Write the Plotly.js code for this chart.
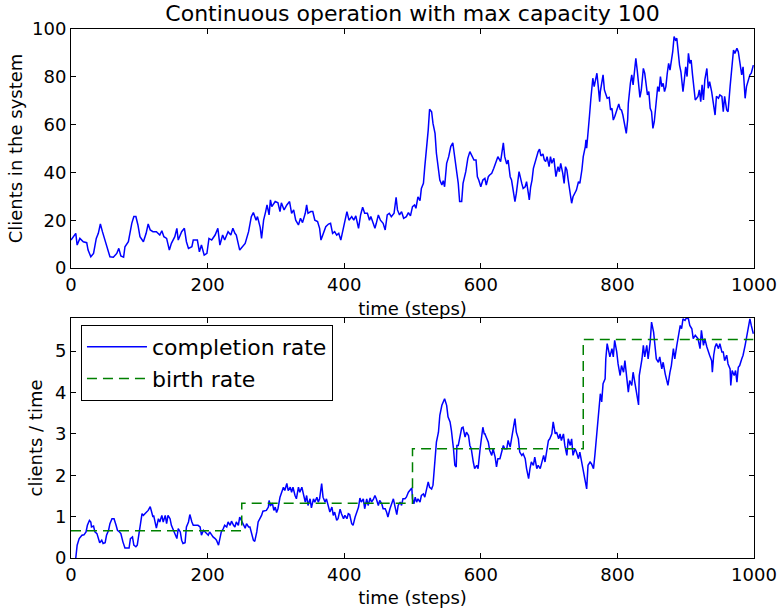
<!DOCTYPE html>
<html>
<head>
<meta charset="utf-8">
<script src="https://cdn.plot.ly/plotly-3.0.1.min.js"></script>
<style>html,body{margin:0;padding:0;background:#fff;}#chart{width:780px;height:612px;}</style>
</head>
<body>
<div id="chart"></div>
<script>
// Clients in the system: [time step, clients]
var clientsPts = [
[0,11.7],[7,14.5],[9,9.6],[13,12.4],[18,11],[23,10.6],[25,7.5],[29,4.7],[33,6.1],[37,12.4],
[40,14.5],[43,18.4],[46,15.2],[50,11.7],[53,8.9],[57,4.7],[62,4.5],[67,6.1],[70,8.2],[73,5],
[77,4.5],[79,8.9],[84,11],[86,14.5],[89,18.7],[92,21.5],[95,21.5],[98,18],[101,13.1],[106,11],
[110,14.5],[113,18.4],[116,15.9],[120,15.2],[125,15.2],[130,13.8],[133,15.6],[136,13.1],[140,12.4],[144,7.5],
[147,10.3],[152,13.1],[155,16.6],[157,11.7],[162,15.2],[166,16.6],[169,11],[172,8.2],[177,8.9],[179,11.7],
[185,11.7],[188,6.8],[191,9.6],[195,5.4],[199,6.1],[202,12.4],[206,11.7],[211,13.8],[215,16.6],[218,9.6],
[222,13.8],[225,11.7],[230,15.2],[234,13.8],[237,16.6],[240,14.5],[242,13.8],[247,7.5],[251,8.9],[255,10.3],
[260,15.2],[264,21.5],[267,23.2],[271,20],[273,21.5],[277,17],[279,12.4],[282,20],[285,23.6],[287,26.4],
[290,22.2],[292,28.5],[294,25.7],[299,27.8],[303,27.3],[306,23.6],[308,27.3],[312,24.3],[316,26.4],[320,27.8],
[323,22.9],[326,24.3],[329,20],[333,18],[336,20.8],[339,19],[343,22.9],[345,26.4],[347,22.9],[351,23.6],
[354,23.6],[357,20],[361,19.4],[364,16.6],[366,11.7],[369,14.5],[373,17.3],[377,18.4],[380,18.7],[383,14.5],
[386,15.2],[389,13.8],[392,14.5],[395,11.7],[398,15.9],[401,18.7],[404,23.6],[407,20],[411,21.5],[414,20],
[417,21.8],[421,16.6],[424,22.2],[427,25.4],[430,22.9],[434,22.9],[437,20],[439,21.5],[442,18.7],[445,16.6],
[447,18.7],[450,22.2],[453,20],[457,18.7],[460,15.9],[463,22.2],[466,22.9],[469,21.5],[473,22.9],[476,29.6],
[478,24.3],[481,22.2],[484,23.6],[487,20.8],[491,21.5],[494,23.2],[497,21.8],[500,25.7],[503,26.4],[505,25],
[508,29.8],[511,28.2],[513,33.3],[516,35.4],[518,42.4],[521,50.8],[523,57.7],[525,66.4],[528,65.4],[530,60.5],
[533,56.3],[535,48],[538,42.4],[540,36.8],[543,34.7],[545,36.5],[547,34],[550,43.8],[553,46.6],[556,50.8],
[559,52.4],[561,48.7],[563,45.2],[565,39.6],[567,35.4],[569,27.8],[572,27.8],[574,35.4],[578,40.3],[581,45.9],
[584,48.7],[587,46.9],[590,45.2],[593,45.2],[595,38.2],[597,36.8],[600,34],[603,36.8],[606,37.5],[608,34.7],
[611,38.2],[613,38.9],[616,39.6],[619,41.7],[622,43.8],[625,46.6],[629,44.5],[631,48],[633,52.4],[635,46.6],
[638,43.5],[640,45.2],[643,38.2],[645,36.8],[647,32.6],[650,27.8],[652,31.2],[656,40.3],[660,35.4],[662,33.3],
[665,34],[667,36.1],[670,30.5],[671,28.5],[673,34],[675,36.8],[677,41.7],[679,43.8],[682,46.6],[684,48.7],
[686,49.7],[688,46.9],[691,47.7],[693,45.2],[695,44.5],[697,46.6],[700,42.4],[702,46.6],[704,43.8],[707,45.9],
[710,38.2],[713,42.4],[715,40.3],[717,43.8],[720,39.6],[722,35.4],[724,42.4],[726,41],[728,36.8],[731,31.9],
[733,27.1],[735,29.8],[738,31.2],[740,32.6],[743,36.1],[745,35.4],[748,41],[750,46.6],[753,50.8],[754,53.6],
[755,50.1],[757,58.4],[759,63.3],[761,70.3],[762,74.5],[764,79.4],[766,75.9],[768,78.7],[770,81.5],[772,75.9],
[774,69.6],[775,73.8],[777,78],[779,80.8],[781,74.5],[783,73.1],[785,71],[788,71.4],[790,66.1],[792,66.8],
[794,61.9],[796,63.3],[798,65],[800,66.8],[802,68.6],[804,66.4],[806,66.1],[808,64],[810,61.2],[813,56.3],
[815,61.9],[816,68.9],[819,77.3],[821,80.8],[823,76.6],[825,82.8],[827,87.7],[829,82.8],[831,75.9],[833,71.4],
[835,74.5],[838,83.5],[840,81.5],[842,75.9],[844,72.4],[846,73.8],[848,66.8],[850,65.4],[852,58.4],[854,61.2],
[855,64],[857,70.3],[859,75.9],[861,73.8],[863,80.1],[865,75.9],[867,77.3],[869,73.8],[871,75.9],[873,81.5],
[875,85.6],[877,82.8],[879,86.3],[881,90.5],[883,96.8],[885,95.4],[887,96.1],[889,89.8],[891,84.9],[893,82.1],
[895,75.2],[896,73.8],[898,78.7],[900,84.2],[902,80.1],[904,89.8],[906,85.6],[908,87],[910,80.8],[912,75.9],
[914,70.3],[916,71],[918,71.8],[920,74.5],[922,69.6],[924,76.6],[926,70.3],[928,78.7],[931,83.5],[933,75.2],
[935,78],[938,73.8],[940,69.6],[943,64],[945,71.8],[948,71],[950,72.4],[953,71.8],[955,65.4],[957,71.8],
[960,66.1],[962,65.4],[965,75.9],[967,81.5],[970,91.2],[972,89.8],[975,91.9],[977,90.5],[979,85.6],[982,80.8],
[984,84.2],[987,71],[989,75.9],[992,79.4],[994,80.8],[996,81.5],[999,84.9]
];

// Completion rate: [time step, clients / time]
var completionPts = [
[7,0],[9,0.31],[12,0.47],[16,0.55],[19,0.56],[22,0.63],[24,0.79],[27,0.91],[29,0.87],[30,0.75],
[33,0.77],[35,0.63],[38,0.59],[40,0.47],[42,0.37],[45,0.43],[47,0.35],[50,0.37],[52,0.55],[55,0.67],
[57,0.83],[60,0.95],[63,0.95],[66,0.79],[68,0.67],[71,0.63],[73,0.59],[76,0.39],[79,0.24],[81,0.24],
[85,0.24],[87,0.47],[90,0.51],[92,0.31],[95,0.27],[97,0.31],[100,0.63],[102,0.87],[104,1.07],[106,1.03],
[108,1.07],[111,1.11],[113,1.15],[116,1.24],[118,1.13],[120,0.99],[121,1.03],[123,0.83],[125,0.72],[128,0.95],
[130,0.87],[133,1.03],[135,0.87],[138,1.03],[140,0.83],[142,1.03],[145,0.95],[147,0.79],[150,0.67],[152,0.63],
[155,0.47],[157,0.71],[160,0.63],[162,0.43],[164,0.35],[167,0.37],[169,0.75],[172,0.87],[174,1.05],[177,0.87],
[179,0.79],[183,0.79],[186,0.79],[189,0.75],[191,0.55],[194,0.67],[196,0.63],[199,0.59],[201,0.55],[203,0.63],
[206,0.55],[208,0.51],[211,0.47],[213,0.43],[216,0.31],[218,0.47],[220,0.63],[223,0.71],[225,0.79],[228,0.75],
[230,0.87],[233,0.79],[235,0.89],[238,0.79],[240,0.75],[242,0.87],[245,0.79],[247,0.99],[250,0.89],[252,0.79],
[255,0.72],[257,0.83],[260,0.75],[262,0.75],[264,0.63],[267,0.43],[269,0.40],[272,0.63],[274,0.87],[277,0.95],
[279,1.03],[281,1.13],[284,1.15],[286,1.15],[289,1.23],[290,1.39],[292,1.27],[295,1.31],[297,1.15],[299,1.23],
[301,1.10],[303,1.19],[306,1.47],[308,1.59],[311,1.71],[313,1.63],[316,1.80],[318,1.63],[321,1.71],[323,1.59],
[325,1.71],[328,1.51],[330,1.43],[333,1.71],[335,1.59],[338,1.71],[340,1.59],[343,1.35],[345,1.51],[347,1.27],
[350,1.43],[352,1.21],[355,1.43],[357,1.35],[360,1.47],[362,1.35],[364,1.43],[367,1.80],[369,1.47],[372,1.35],
[374,1.43],[377,1.19],[379,1.11],[382,1.23],[384,1.03],[386,1.11],[389,0.91],[391,0.95],[394,1.18],[396,1.07],
[399,0.95],[401,1.03],[404,0.95],[406,1.07],[408,1.05],[411,0.83],[413,0.79],[416,0.99],[418,1.11],[421,1.23],
[423,1.45],[425,1.35],[428,1.43],[430,1.19],[433,1.43],[435,1.27],[438,1.45],[440,1.35],[443,1.43],[445,1.51],
[447,1.43],[450,1.27],[452,1.39],[455,1.31],[457,1.19],[460,1.19],[462,1.11],[464,0.99],[467,1.19],[469,1.27],
[472,1.43],[474,1.27],[477,1.05],[479,1.27],[482,1.35],[484,1.27],[486,1.43],[489,1.43],[491,1.47],[494,1.59],
[496,1.63],[499,1.69],[500,1.43],[502,1.31],[504,1.47],[506,1.35],[508,1.43],[511,1.35],[513,1.51],[516,1.55],
[518,1.47],[521,1.71],[523,1.84],[525,1.71],[528,1.67],[530,1.76],[533,2.32],[535,2.80],[538,3.04],[540,3.45],
[543,3.69],[545,3.77],[547,3.85],[550,3.69],[552,3.41],[555,3.29],[557,3.08],[560,2.64],[562,2.24],[564,2.20],
[565,2.72],[567,2.72],[569,2.88],[572,3.14],[574,3.16],[577,2.92],[579,3.04],[582,2.96],[584,2.72],[586,2.64],
[589,2.32],[591,2.16],[594,2.24],[596,2.16],[599,2.64],[601,2.88],[603,3.16],[605,3.00],[606,3.00],[608,2.92],
[611,2.80],[613,2.60],[616,2.48],[618,2.64],[621,2.44],[623,2.20],[625,2.40],[628,2.40],[630,2.52],[633,2.72],
[635,2.64],[638,2.64],[640,2.84],[643,2.68],[645,2.88],[647,3.12],[650,3.37],[652,3.04],[655,2.88],[657,2.56],
[660,2.48],[662,2.52],[665,2.40],[667,2.16],[670,1.92],[672,2.16],[674,2.32],[677,2.24],[679,2.44],[682,2.16],
[684,2.24],[687,2.16],[689,2.32],[692,2.48],[694,2.32],[696,2.56],[699,2.84],[701,2.88],[704,3.00],[706,3.29],
[709,3.00],[711,3.04],[714,2.88],[716,3.00],[718,2.84],[721,3.00],[723,2.72],[726,2.48],[728,2.88],[731,2.72],
[733,2.88],[735,2.48],[738,2.64],[740,2.56],[743,2.40],[745,2.56],[748,2.32],[750,2.08],[753,1.92],[755,1.67],
[757,2.24],[760,2.32],[762,2.28],[765,2.16],[767,2.48],[770,3.12],[772,3.53],[775,3.97],[777,3.77],[779,4.21],
[782,4.33],[783,4.81],[785,5.18],[787,4.98],[789,4.86],[792,5.06],[794,4.86],[796,5.26],[799,4.98],[801,4.69],
[804,4.41],[806,4.65],[809,4.49],[811,4.77],[814,4.25],[816,4.01],[818,4.29],[821,4.17],[823,4.49],[826,4.17],
[828,3.97],[831,3.70],[832,4.41],[834,4.61],[836,4.81],[838,5.14],[840,4.86],[843,5.14],[845,4.81],[848,5.22],
[850,5.70],[853,5.46],[855,5.10],[857,4.81],[860,4.73],[862,4.86],[865,4.57],[867,4.73],[870,4.45],[872,4.33],
[874,4.17],[877,4.49],[879,4.65],[882,5.06],[884,4.81],[887,5.14],[889,5.30],[892,5.62],[894,5.54],[896,5.78],
[899,5.74],[901,5.80],[904,5.78],[906,5.62],[909,5.54],[911,5.30],[914,5.38],[916,5.34],[918,5.30],[921,5.06],
[923,5.50],[926,5.14],[928,5.30],[931,5.10],[933,5.02],[935,4.90],[938,4.77],[939,4.49],[941,4.90],[943,5.10],
[945,5.18],[948,5.06],[950,5.18],[953,4.98],[955,4.98],[957,4.77],[960,4.90],[962,4.69],[965,4.57],[966,4.17],
[968,4.53],[971,4.41],[973,4.53],[975,4.25],[977,4.61],[979,4.65],[982,4.81],[984,4.90],[987,5.14],[989,5.30],
[992,5.54],[994,5.78],[996,5.62],[999,5.42]
];

// Birth rate: piecewise constant
var birthTimes = [0, 250, 500, 750, 999];
var birthRates = [0.66, 1.32, 2.64, 5.28, 5.28];

var titleText = 'Continuous operation with max capacity 100';
var xTitle = 'time (steps)';
var yTitleTop = 'Clients in the system';
var yTitleBottom = 'clients / time';
var seriesNames = ['completion rate', 'birth rate'];

var FONT = 'DejaVu Sans, sans-serif';
var BLUE = '#0000ff', GREEN = '#008000';

var traces = [
  {x: clientsPts.map(function(p){return p[0];}), y: clientsPts.map(function(p){return p[1];}),
   xaxis: 'x', yaxis: 'y', mode: 'lines', line: {color: BLUE, width: 1.5}, showlegend: false, hoverinfo: 'skip'},
  {x: completionPts.map(function(p){return p[0];}), y: completionPts.map(function(p){return p[1];}),
   xaxis: 'x2', yaxis: 'y2', mode: 'lines', name: seriesNames[0], line: {color: BLUE, width: 1.5}},
  {x: birthTimes, y: birthRates, xaxis: 'x2', yaxis: 'y2', mode: 'lines', name: seriesNames[1],
   line: {color: GREEN, width: 1.5, dash: '10px,6px', shape: 'hv'}}
];

function axisBase(extra) {
  var a = {
    showline: true, linecolor: '#000', linewidth: 1, mirror: 'ticks',
    ticks: 'inside', ticklen: 5, tickwidth: 1, tickcolor: '#000',
    showgrid: false, zeroline: false,
    tickfont: {family: FONT, size: 18, color: '#000'}
  };
  for (var k in extra) a[k] = extra[k];
  return a;
}

var layout = {
  width: 780, height: 612,
  margin: {l: 71, r: 26, t: 29, b: 54},
  paper_bgcolor: '#fff', plot_bgcolor: '#fff',
  font: {family: FONT, color: '#000'},
  title: {text: titleText, font: {family: FONT, size: 22, color: '#000'},
          x: 0.5, xref: 'paper', xanchor: 'center', y: 0.979, yref: 'container', yanchor: 'middle'},
  xaxis: axisBase({domain: [0, 1], anchor: 'y', range: [0, 1000], dtick: 200, tick0: 0,
    title: {text: xTitle, font: {family: FONT, size: 18, color: '#000'}, standoff: 8}}),
  yaxis: axisBase({domain: [0.5482, 1], anchor: 'x', range: [0, 100], dtick: 20, tick0: 0,
    title: {text: yTitleTop, font: {family: FONT, size: 18, color: '#000'}, standoff: 4}}),
  xaxis2: axisBase({domain: [0, 1], anchor: 'y2', range: [0, 1000], dtick: 200, tick0: 0,
    title: {text: xTitle, font: {family: FONT, size: 18, color: '#000'}, standoff: 7}}),
  yaxis2: axisBase({domain: [0, 0.4537], anchor: 'x2', range: [0, 5.8], dtick: 1, tick0: 0,
    title: {text: yTitleBottom, font: {family: FONT, size: 18, color: '#000'}, standoff: 7}}),
  showlegend: true,
  legend: {x: 0.0146, y: 0.4405, xanchor: 'left', yanchor: 'top', xref: 'paper', yref: 'paper',
    bgcolor: '#fff', bordercolor: '#000', borderwidth: 1,
    font: {family: FONT, size: 22, color: '#000'}, itemwidth: 60}
};

Plotly.newPlot('chart', traces, layout, {staticPlot: true, displayModeBar: false});
</script>
</body>
</html>
